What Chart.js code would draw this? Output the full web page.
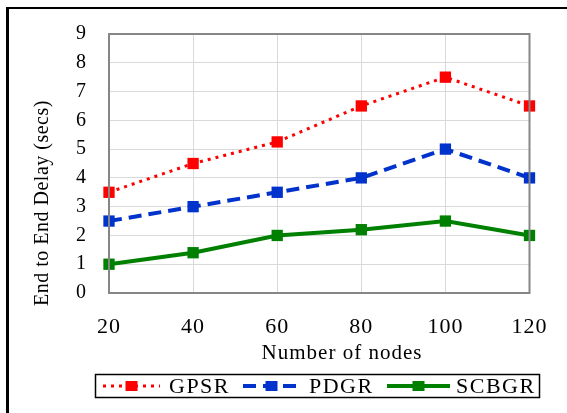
<!DOCTYPE html>
<html>
<head>
<meta charset="utf-8">
<script src="https://cdn.jsdelivr.net/npm/chart.js@4"></script>
<style>
  body { margin: 0; background: #fff; }
  #wrap { position: relative; width: 567px; height: 413px; overflow: hidden; }
  #frame { position: absolute; left: 6px; top: 7px; width: 600px; height: 500px;
           border-left: 3px solid #000; border-top: 2px solid #000; }
  canvas { position: absolute; left: 0; top: 0; }
</style>
</head>
<body>
<div id="wrap">
  <div id="frame"></div>
  <canvas id="myChart" width="567" height="413"></canvas>
</div>
<script>
const nodes = ['20', '40', '60', '80', '100', '120'];
const gpsr = [3.5, 4.5, 5.25, 6.5, 7.5, 6.5];
const pdgr = [2.5, 3.0, 3.5, 4.0, 5.0, 4.0];
const scbgr = [1.0, 1.4, 2.0, 2.2, 2.5, 2.0];
const seriesNames = ['GPSR', 'PDGR', 'SCBGR'];
const yTitle = 'End to End Delay (secs)';
const xTitle = 'Number of nodes';

const serif = '"Liberation Serif", "Times New Roman", Times, serif';

// frame around the plot area, axis titles and the boxed legend
const extras = {
    id: 'extras',
    beforeDraw(chart) {
        chart.ctx.letterSpacing = '1px';
    },
    afterDatasetsDraw(chart) {
        const ctx = chart.ctx;
        const a = chart.chartArea;
        ctx.save();
        ctx.strokeStyle = '#868686';
        ctx.lineWidth = 2;
        ctx.strokeRect(a.left, a.top, a.right - a.left, a.bottom - a.top);
        ctx.restore();
    },
    afterDraw(chart) {
        const ctx = chart.ctx;
        ctx.save();
        ctx.fillStyle = '#000';
        ctx.font = '20px ' + serif;
        ctx.letterSpacing = '0.5px';
        ctx.textAlign = 'center';
        ctx.textBaseline = 'middle';
        ctx.translate(43, 203);
        ctx.rotate(-Math.PI / 2);
        ctx.fillText(yTitle, 0, 0);
        ctx.restore();

        ctx.save();
        ctx.fillStyle = '#000';
        ctx.font = '21px ' + serif;
        ctx.letterSpacing = '1px';
        ctx.textAlign = 'center';
        ctx.textBaseline = 'middle';
        ctx.fillText(xTitle, 342, 353);
        ctx.restore();

        // legend
        ctx.save();
        ctx.strokeStyle = '#000';
        ctx.lineWidth = 1.5;
        ctx.strokeRect(95.5, 374.5, 444, 23);
        const items = [
            {x1: 103, x2: 160, tx: 169},
            {x1: 243, x2: 300, tx: 309},
            {x1: 387, x2: 450, tx: 456}
        ];
        const y = 386;
        chart.data.datasets.forEach((ds, i) => {
            const it = items[i];
            ctx.strokeStyle = ds.borderColor;
            ctx.lineWidth = ds.borderWidth;
            ctx.setLineDash(ds.borderDash || []);
            ctx.beginPath();
            ctx.moveTo(it.x1, y);
            ctx.lineTo(it.x2, y);
            ctx.stroke();
            ctx.setLineDash([]);
            ctx.fillStyle = ds.borderColor;
            const mx = (it.x1 + it.x2) / 2;
            ctx.fillRect(mx - 6, y - 5, 12, 10);
            ctx.fillStyle = '#000';
            ctx.font = '22px ' + serif;
            ctx.letterSpacing = '1.5px';
            ctx.textAlign = 'left';
            ctx.textBaseline = 'middle';
            ctx.fillText(ds.label, it.tx, y + 1);
        });
        ctx.restore();
    }
};

const ctx = document.getElementById('myChart');

new Chart(ctx, {
    type: 'line',
    data: {
        labels: nodes,
        datasets: [{
            label: seriesNames[0],
            data: gpsr,
            borderColor: '#ff0000',
            backgroundColor: '#ff0000',
            borderWidth: 3,
            borderDash: [3, 5],
            pointStyle: 'rect',
            pointRadius: 8,
            pointBorderWidth: 0,
            clip: false
        }, {
            label: seriesNames[1],
            data: pdgr,
            borderColor: '#0033cc',
            backgroundColor: '#0033cc',
            borderWidth: 4,
            borderDash: [13, 7],
            pointStyle: 'rect',
            pointRadius: 8,
            pointBorderWidth: 0,
            clip: false
        }, {
            label: seriesNames[2],
            data: scbgr,
            borderColor: '#008000',
            backgroundColor: '#008000',
            borderWidth: 4,
            pointStyle: 'rect',
            pointRadius: 8,
            pointBorderWidth: 0,
            clip: false
        }]
    },
    options: {
        responsive: false,
        animation: false,
        layout: {
            padding: {left: 31, top: 29, right: 33, bottom: 47}
        },
        plugins: {
            legend: {display: false},
            tooltip: {enabled: false}
        },
        scales: {
            x: {
                offset: false,
                grid: {color: '#d9d9d9', lineWidth: 1, drawTicks: false},
                border: {display: false},
                ticks: {
                    color: '#000',
                    padding: 21,
                    maxRotation: 0,
                    font: {family: serif, size: 22}
                },
                afterFit(scale) { scale.height = 73; }
            },
            y: {
                min: 0,
                max: 9,
                grid: {color: '#d9d9d9', lineWidth: 1, drawTicks: false},
                border: {display: false},
                ticks: {
                    stepSize: 1,
                    color: '#000',
                    padding: 22,
                    font: {family: serif, size: 20}
                },
                afterFit(scale) { scale.width = 78; }
            }
        }
    },
    plugins: [extras]
});
</script>
</body>
</html>
